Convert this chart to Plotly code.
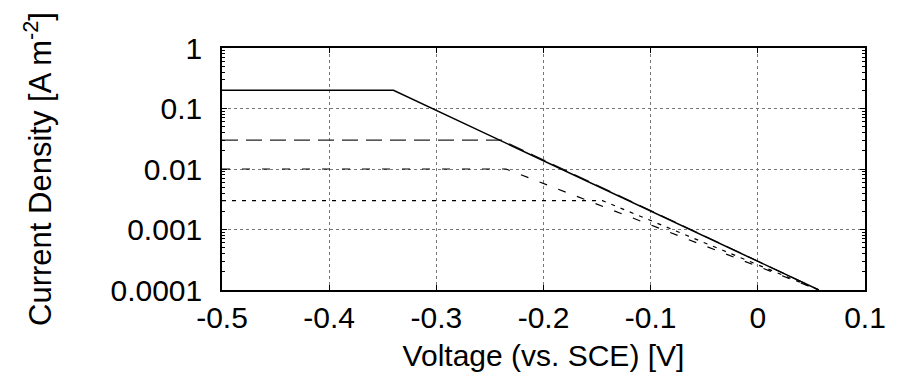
import plotly.graph_objects as go

# Breakpoint data (voltage vs. SCE [V], current density [A m^-2])
v_solid = [-0.5, -0.34, 0.057]
j_solid = [0.2, 0.2, 0.0001]

v_long = [-0.5, -0.239, 0.057]
j_long = [0.03, 0.03, 0.0001]

v_mid = [-0.5, -0.235, 0.057]
j_mid = [0.01, 0.01, 0.0001]

v_short = [-0.5, -0.145, 0.057]
j_short = [0.003, 0.003, 0.0001]

x_ticks = [-0.5, -0.4, -0.3, -0.2, -0.1, 0, 0.1]
x_ticktext = ["-0.5", "-0.4", "-0.3", "-0.2", "-0.1", "0", "0.1"]
y_ticks = [1, 0.1, 0.01, 0.001, 0.0001]
y_ticktext = ["1", "0.1", "0.01", "0.001", "0.0001"]
y_minor = [m * d for d in [0.0001, 0.001, 0.01, 0.1] for m in range(2, 10)]

FONT = "Liberation Sans, Arial, sans-serif"
FS = 30

fig = go.Figure()
fig.add_trace(go.Scatter(x=v_short, y=j_short, mode="lines",
                         line=dict(color="black", width=1.2, dash="4px,6px")))
fig.add_trace(go.Scatter(x=v_mid, y=j_mid, mode="lines",
                         line=dict(color="black", width=1.2, dash="8px,12px")))
fig.add_trace(go.Scatter(x=v_long, y=j_long, mode="lines",
                         line=dict(color="#222", width=1.2, dash="16px,8px")))
fig.add_trace(go.Scatter(x=v_solid, y=j_solid, mode="lines",
                         line=dict(color="black", width=1.5)))

fig.update_layout(
    width=898, height=388,
    margin=dict(l=222, r=31, t=48, b=98),
    paper_bgcolor="white", plot_bgcolor="white",
    showlegend=False,
    font=dict(family=FONT, color="black"),
)

fig.update_xaxes(
    range=[-0.5, 0.1], tickvals=x_ticks, ticktext=x_ticktext,
    tickfont=dict(size=FS, family=FONT),
    showline=True, linecolor="black", linewidth=1.5, mirror="ticks",
    ticks="inside", ticklen=5, tickcolor="black",
    showgrid=True, gridcolor="#777", griddash="dot", gridwidth=1,
    zeroline=False,
    title=dict(text="Voltage (vs. SCE) [V]", font=dict(size=FS, family=FONT), standoff=12),
)
fig.update_yaxes(
    type="log", range=[-4, 0], tickvals=y_ticks, ticktext=y_ticktext,
    tickfont=dict(size=FS, family=FONT),
    showline=True, linecolor="black", linewidth=1.5, mirror="ticks",
    ticks="inside", ticklen=5, tickcolor="black",
    minor=dict(tickvals=y_minor, ticks="inside", ticklen=3, tickcolor="black",
               tickwidth=1, showgrid=False),
    showgrid=True, gridcolor="#777", griddash="dot", gridwidth=1,
    zeroline=False, ticklabelstandoff=12,
    title=dict(text="Current Density [A m<sup>-2</sup>]", font=dict(size=31, family=FONT), standoff=50),
)

fig.write_html("out.html")
